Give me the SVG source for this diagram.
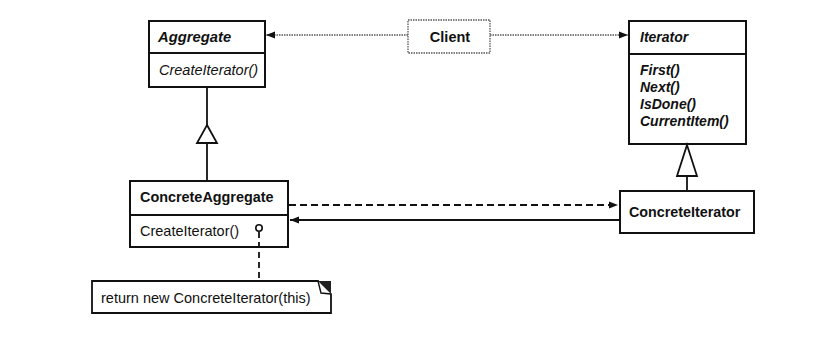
<svg xmlns="http://www.w3.org/2000/svg" width="829" height="345" viewBox="0 0 829 345">
<style>
.box{fill:#fff;stroke:#111;stroke-width:2}
.ln{stroke:#111;stroke-width:1.8;fill:none}
.t{font-family:"Liberation Sans",Arial,sans-serif;fill:#111}
.b{font-weight:bold}
.i{font-style:italic}
.dot{stroke:#555;stroke-width:1.3;stroke-dasharray:1.5,1;fill:none}
</style>
<defs>
<marker id="ah" markerWidth="10" markerHeight="8" refX="9" refY="4" orient="auto" markerUnits="userSpaceOnUse">
<path d="M0,0.5 L9,4 L0,7.5 Z" fill="#111"/>
</marker>
</defs>
<rect width="829" height="345" fill="#fff"/>
<g id="aggregate">
<rect class="box" x="149" y="21" width="116" height="66"/>
<line class="ln" x1="149" y1="53" x2="265" y2="53" stroke-width="1.5"/>
<text class="t b i" x="158" y="42" font-size="14.8">Aggregate</text>
<text class="t i" x="159" y="75" font-size="14.5">CreateIterator()</text>
</g>
<g id="client">
<rect x="408" y="20" width="82" height="33" fill="#fff" stroke="#555" stroke-width="1.3" stroke-dasharray="1.5,1"/>
<text class="t b" x="450" y="42" font-size="14.5" text-anchor="middle" fill="#333">Client</text>
</g>
<g id="iterator">
<rect class="box" x="629" y="21" width="117" height="123"/>
<line class="ln" x1="629" y1="54" x2="746" y2="54" stroke-width="1.5"/>
<text class="t b i" x="640" y="42" font-size="14">Iterator</text>
<text class="t b i" x="640" y="75" font-size="14">First()</text>
<text class="t b i" x="640" y="92" font-size="14">Next()</text>
<text class="t b i" x="640" y="109" font-size="14">IsDone()</text>
<text class="t b i" x="640" y="126" font-size="14">CurrentItem()</text>
</g>
<g id="concreteAggregate">
<rect class="box" x="130" y="181" width="158" height="66"/>
<line class="ln" x1="130" y1="215" x2="288" y2="215" stroke-width="1.5"/>
<text class="t b" x="140" y="202" font-size="14.4">ConcreteAggregate</text>
<text class="t" x="140" y="236" font-size="14.5">CreateIterator()</text>
</g>
<g id="concreteIterator">
<rect class="box" x="620" y="191" width="134" height="42"/>
<text class="t b" x="629" y="217" font-size="14.3">ConcreteIterator</text>
</g>
<g id="note">
<path d="M92,281 H318 L331,294 V313 H92 Z" fill="#fff" stroke="#111" stroke-width="1.8"/>
<path d="M318,281 H331 V294 Z" fill="#222"/>
<path d="M318,281 L321,293 L331,294" fill="#fff" stroke="#111" stroke-width="1.4"/>
<text class="t" x="101" y="303" font-size="14.5">return new ConcreteIterator(this)</text>
</g>
<g id="connectors">
<line class="dot" x1="408" y1="35" x2="266" y2="35" marker-end="url(#ah)"/>
<line class="dot" x1="490" y1="35" x2="628" y2="35" marker-end="url(#ah)"/>
<line class="ln" x1="207" y1="180" x2="207" y2="88"/>
<path d="M207,125 L217,143 L197,143 Z" fill="#fff" stroke="#111" stroke-width="1.8"/>
<line class="ln" x1="687" y1="190" x2="687" y2="145"/>
<path d="M687,145 L697,176 L677,176 Z" fill="#fff" stroke="#111" stroke-width="1.8"/>
<line class="ln" x1="289" y1="205" x2="618" y2="205" stroke-dasharray="7,4" marker-end="url(#ah)"/>
<line class="ln" x1="619" y1="220" x2="290" y2="220" marker-end="url(#ah)"/>
<line class="ln" x1="259" y1="232" x2="259" y2="280" stroke-dasharray="6,4"/>
<circle cx="259" cy="228" r="3.2" fill="#fff" stroke="#111" stroke-width="1.6"/>
</g>
</svg>
